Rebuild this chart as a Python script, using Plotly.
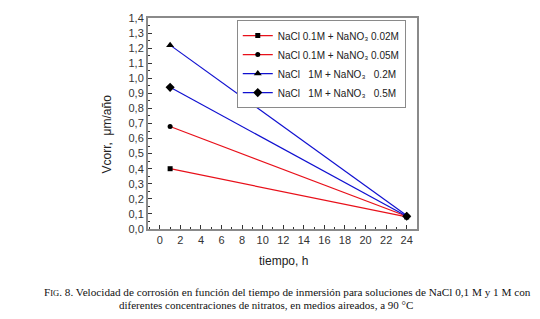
import plotly.graph_objects as go

nbsp = "\u00a0"
series_names = [
    "NaCl 0.1M + NaNO\u2083 0.02M",
    "NaCl 0.1M + NaNO\u2083 0.05M",
    f"NaCl{nbsp*3}1M + NaNO\u2083{nbsp*3}0.2M",
    f"NaCl{nbsp*3}1M + NaNO\u2083{nbsp*3}0.5M",
]
tiempo = [1, 24]
v_s1 = [0.40, 0.08]
v_s2 = [0.68, 0.085]
v_s3 = [1.22, 0.09]
v_s4 = [0.94, 0.085]
series_values = [v_s1, v_s2, v_s3, v_s4]
line_colors = ["#e8101a", "#e8101a", "#1010d0", "#1010d0"]
symbols = ["square", "circle", "triangle-up", "diamond"]
msizes = [5, 5, 7, 7]

fig = go.Figure()
for name, vals, col, sym, ms in zip(series_names, series_values, line_colors, symbols, msizes):
    fig.add_trace(go.Scatter(
        x=tiempo, y=vals, name=name, mode="lines+markers",
        line=dict(color=col, width=1.2),
        marker=dict(symbol=sym, size=ms, color="black"),
    ))

axis_common = dict(
    showline=True, linecolor="#8a8a8a", linewidth=2, mirror=True,
    showgrid=False, zeroline=False, ticks="inside", ticklen=4,
    tickcolor="#333", tickwidth=1,
    tickfont=dict(family="Liberation Sans, Arial", size=11, color="#333"),
)
fig.update_xaxes(range=[-1.15, 25], tick0=0, dtick=2,
                 minor=dict(dtick=1, ticks="inside", ticklen=2, tickcolor="#333"),
                 **axis_common)
fig.update_yaxes(range=[0, 1.4], tick0=0, dtick=0.1, tickformat=".1f",
                 minor=dict(dtick=0.05, ticks="inside", ticklen=2, tickcolor="#333"),
                 **axis_common)

fig.update_layout(
    width=540, height=319,
    margin=dict(l=148, r=123, t=12, b=89.5),
    paper_bgcolor="white", plot_bgcolor="white",
    separators=", ",
    showlegend=True,
    legend=dict(
        x=0.33, y=0.99, xanchor="left", yanchor="top",
        bgcolor="white", bordercolor="#8a8a8a", borderwidth=1,
        font=dict(family="Liberation Sans, Arial", size=10, color="#222"),
        tracegroupgap=0, itemwidth=30,
    ),
    font=dict(family="Liberation Sans, Arial", color="#222"),
)

fig.add_annotation(
    text="Vcorr,  μm/año", textangle=-90, xref="paper", yref="paper",
    x=(107 - 148) / 269, y=(229.5 - 132) / 217.5, xanchor="center", yanchor="middle",
    showarrow=False, font=dict(family="Liberation Sans, Arial", size=12, color="#222"),
)
fig.add_annotation(
    text="tiempo, h", xref="paper", yref="paper",
    x=(283 - 148) / 269, y=-(262 - 229.5) / 217.5, xanchor="center", yanchor="middle",
    showarrow=False, font=dict(family="Liberation Sans, Arial", size=12, color="#222"),
)
cap1 = ("F<span style='font-size:8.5px'>IG</span>. 8. Velocidad de corrosión en función del tiempo de "
        "inmersión para soluciones de NaCl 0,1 M y 1 M con")
cap2 = "diferentes concentraciones de nitratos, en medios aireados, a 90 °C"
for txt, xx, yy, fs in [(cap1, 287, 294, 11.2), (cap2, 266, 308, 11)]:
    fig.add_annotation(
        text=txt, xref="paper", yref="paper",
        x=(xx - 148) / 269, y=-(yy - 229.5) / 217.5, xanchor="center", yanchor="middle",
        showarrow=False, font=dict(family="Liberation Serif, Times New Roman", size=fs, color="#111"),
    )

fig.write_html("out.html", config={"displayModeBar": False},
               post_script="document.body.style.margin='0';")
